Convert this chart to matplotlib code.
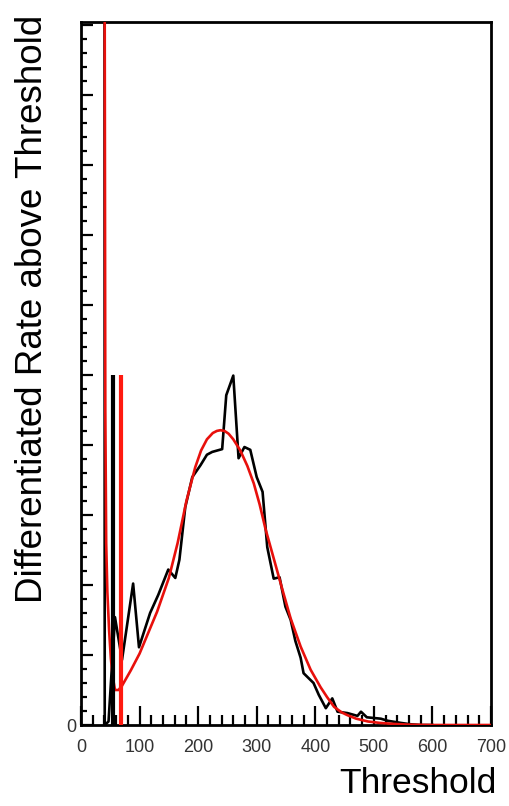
import numpy as np
import matplotlib
matplotlib.use('Agg')
import matplotlib.pyplot as plt
from matplotlib.ticker import MultipleLocator, FixedLocator

plt.rcParams['font.family'] = ['Liberation Sans', 'DejaVu Sans']

data_x = [39.5, 40.5, 47, 58, 70, 89, 99, 118, 132, 149, 161, 168, 178, 190, 204,
          215, 224, 241, 248, 260, 269, 279, 289, 300, 310, 318, 329, 339, 349,
          358, 366, 375, 380, 397, 406, 418, 429, 438, 455, 472, 478, 488, 512,
          524, 546, 563, 580, 600]
data_y = [30.0, 0.0, 0.05, 1.54, 0.93, 2.02, 1.11, 1.6, 1.86, 2.22, 2.1, 2.36, 3.11,
          3.54, 3.71, 3.86, 3.9, 3.94, 4.71, 4.99, 3.81, 3.97, 3.93, 3.54, 3.33,
          2.54, 2.09, 2.11, 1.69, 1.5, 1.2, 0.96, 0.74, 0.6, 0.43, 0.24, 0.38,
          0.19, 0.17, 0.13, 0.19, 0.11, 0.09, 0.06, 0.03, 0.01, 0.0, 0.0]

# Fit curve (red)
fit_x = [39.5, 40.5, 41.5, 43, 45, 48, 51, 54, 58, 64, 70, 85, 100, 115, 130, 150,
         165, 180, 195, 205, 215, 225, 232, 238, 245, 252, 260, 272, 284, 295,
         305, 315, 325, 335, 345, 358, 375, 392, 409, 420, 432, 445, 455, 470,
         490, 510, 535, 560, 600, 700]
fit_y = [30.0, 10.0, 4.5, 2.6, 1.9, 1.35, 0.95, 0.7, 0.5, 0.5, 0.56, 0.78, 1.02,
         1.32, 1.62, 2.1, 2.6, 3.2, 3.68, 3.92, 4.08, 4.17, 4.2, 4.21, 4.2, 4.16,
         4.08, 3.92, 3.7, 3.45, 3.15, 2.8, 2.5, 2.2, 1.9, 1.52, 1.12, 0.79, 0.54,
         0.4, 0.26, 0.18, 0.14, 0.09, 0.05, 0.03, 0.015, 0.005, 0.0, 0.0]

# Threshold markers
marker_black_x = 55
marker_red_x = 69
marker_top = 5.0

x_ticks = [0, 100, 200, 300, 400, 500, 600, 700]

fig = plt.figure(figsize=(5.10, 8.06), dpi=100)
ax = fig.add_axes([81 / 510, 81 / 806, 410 / 510, 703 / 806])

ax.plot(data_x, data_y, color='black', lw=1.9, zorder=3)
ax.plot(fit_x, fit_y, color='#e8100c', lw=1.9, zorder=4)
ax.vlines(marker_black_x, 0, marker_top, color='black', lw=3, zorder=5)
ax.vlines(marker_red_x, 0, marker_top, color='#ff1a10', lw=3, zorder=5)

ax.set_xlim(0, 700)
ax.set_ylim(0, 10.04)

ax.xaxis.set_major_locator(FixedLocator(x_ticks))
ax.xaxis.set_minor_locator(MultipleLocator(20))
ax.yaxis.set_minor_locator(MultipleLocator(0.2))
ax.set_xticklabels([str(t) for t in x_ticks])
ax.set_yticks(np.arange(0, 11))
ax.set_yticklabels(['0'] + [''] * 10)

ax.tick_params(axis='x', which='major', direction='in', length=14, width=1.6,
               labelsize=13, pad=10, labelcolor='#333333')
ax.tick_params(axis='x', which='minor', direction='in', length=7, width=1.6)
ax.tick_params(axis='y', which='major', direction='in', length=8.5, width=1.6,
               labelsize=13, pad=3, labelcolor='#333333')
ax.tick_params(axis='y', which='minor', direction='in', length=4.3, width=1.6)

for s in ax.spines.values():
    s.set_linewidth(2)

fig.text(33 / 510, 1 - 603 / 806, 'Differentiated Rate above Threshold',
         rotation=90, ha='center', va='bottom', fontsize=26.5)
fig.text(497 / 510, 1 - 800 / 806, 'Threshold', ha='right', va='bottom',
         fontsize=25.5)

fig.savefig('out.png', dpi=100)
